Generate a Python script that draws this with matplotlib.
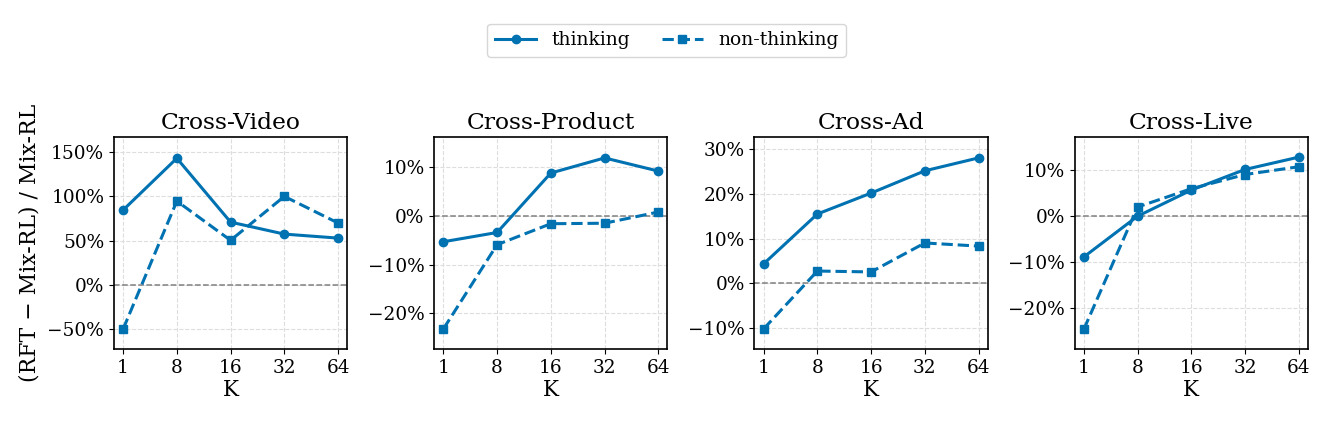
import matplotlib
matplotlib.use("Agg")
import matplotlib.pyplot as plt
from matplotlib.ticker import PercentFormatter

plt.rcParams['font.family'] = ['DejaVu Serif']
plt.rcParams['axes.unicode_minus'] = True

K_labels = ["1", "8", "16", "32", "64"]
titles = ["Cross-Video", "Cross-Product", "Cross-Ad", "Cross-Live"]

thinking = [
    [84.6, 143.0, 71.0, 57.5, 53.0],
    [-5.3, -3.4, 8.8, 11.9, 9.2],
    [4.3, 15.5, 20.2, 25.2, 28.1],
    [-8.9, 0.0, 5.7, 10.2, 12.9],
]
non_thinking = [
    [-49.6, 94.7, 50.5, 100.0, 70.0],
    [-23.2, -5.9, -1.6, -1.5, 0.8],
    [-10.3, 2.7, 2.5, 9.0, 8.3],
    [-24.7, 2.0, 6.0, 9.1, 10.8],
]
yticks = [
    [-50, 0, 50, 100, 150],
    [-20, -10, 0, 10],
    [-10, 0, 10, 20, 30],
    [-20, -10, 0, 10],
]
ylims = [(-72, 167), (-27.3, 16.2), (-14.8, 32.8), (-29, 17.3)]

color = "#0072B2"

fig, axes = plt.subplots(1, 4, figsize=(13.36, 4.28), dpi=100)
fig.subplots_adjust(left=0.0853, right=0.979, top=0.680, bottom=0.1846, wspace=0.373)

x = list(range(len(K_labels)))
for i, ax in enumerate(axes):
    ax.axhline(0, color="gray", linestyle="--", linewidth=1.1, zorder=1)
    ax.plot(x, thinking[i], color=color, linestyle="-", marker="o",
            linewidth=2.2, markersize=6, label="thinking", zorder=3)
    ax.plot(x, non_thinking[i], color=color, linestyle="--", marker="s",
            linewidth=2.2, markersize=6, label="non-thinking", zorder=3)
    ax.set_xticks(x)
    ax.set_xticklabels(K_labels)
    ax.set_xlim(-0.17, 4.17)
    ax.set_yticks(yticks[i])
    ax.set_ylim(*ylims[i])
    ax.yaxis.set_major_formatter(PercentFormatter(decimals=0))
    ax.grid(True, linestyle="--", color="#dddddd", linewidth=0.8, zorder=0)
    ax.set_axisbelow(True)
    ax.set_title(titles[i], fontsize=16.8)
    ax.set_xlabel("K", fontsize=15.5, labelpad=2)
    ax.tick_params(labelsize=13.3)
    for s in ax.spines.values():
        s.set_linewidth(1.2)

axes[0].set_ylabel("(RFT \u2212 Mix-RL) / Mix-RL", fontsize=15.8, labelpad=5)

handles, labels = axes[0].get_legend_handles_labels()
fig.legend(handles, labels, loc="center", bbox_to_anchor=(0.499, 0.906), ncol=2,
           fontsize=13.5, frameon=True, handlelength=2.2, columnspacing=1.7)

fig.savefig("out.png", dpi=100)
